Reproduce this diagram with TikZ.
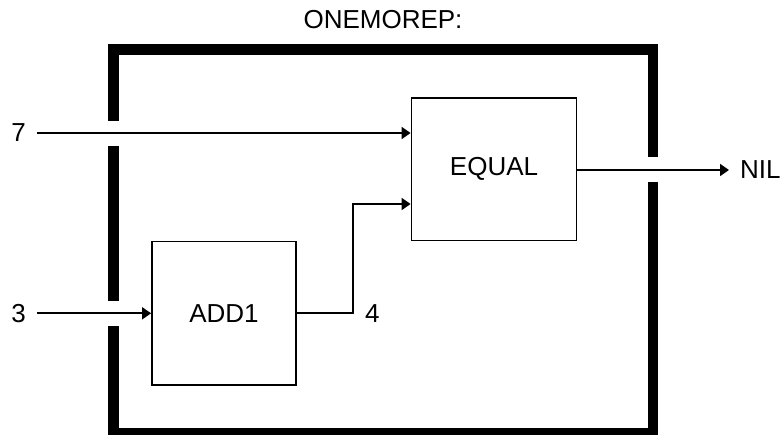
\documentclass[tikz,border=0pt]{standalone}
\usepackage{fontspec}
\setmainfont{Liberation Sans}
\usetikzlibrary{arrows.meta}
\begin{document}
\begin{tikzpicture}[x=1pt,y=-1pt,
  every node/.style={font=\fontsize{26}{30}\selectfont},
  fbox/.style={draw,line width=1.8pt,minimum width=#1,inner sep=0pt},
  frame/.style={line width=10.5pt,line cap=butt,line join=miter},
  wire/.style={line width=1.8pt},
  arr/.style={wire,-{Triangle[length=9pt,width=12pt]}},
  lbl/.style={inner xsep=11pt,inner ysep=0pt}]
\useasboundingbox (0,0) rectangle (784,434);
% title
\node (title) at (383,20) {ONEMOREP:};
% frame with gaps
\draw[frame] (113.5,301) -- (113.5,146);
\draw[frame] (113.5,121) -- (113.5,49.5) -- (653,49.5) -- (653,157);
\draw[frame] (653,181.7) -- (653,433.5) -- (113.5,433.5) -- (113.5,325.7);
% boxes
\node[fbox=165pt,minimum height=142.5pt] (eq) at (494,169.3) {EQUAL};
\node[fbox=144pt,minimum height=143.5pt] (add) at (224,313.3) {ADD1};
% labels
\node[lbl] (l7) at (18.5,133) {7};
\node[lbl] (l3) at (18.5,313.3) {3};
\node[inner sep=0pt,anchor=west] (l4) at (365,313.3) {4};
\node[lbl,anchor=west] (nil) at (729,170) {NIL};
\coordinate (bend) at (353.3,313.3);
\coordinate (in2) at (0,204);
% connectors
\draw[arr] (l7.east) -- (eq.west |- l7);
\draw[arr] (l3.east) -- (add.west);
\draw[arr] (add.east) -- (bend) |- (eq.west |- in2);
\draw[arr] (eq.east |- nil) -- (nil.west);
\end{tikzpicture}
\end{document}
